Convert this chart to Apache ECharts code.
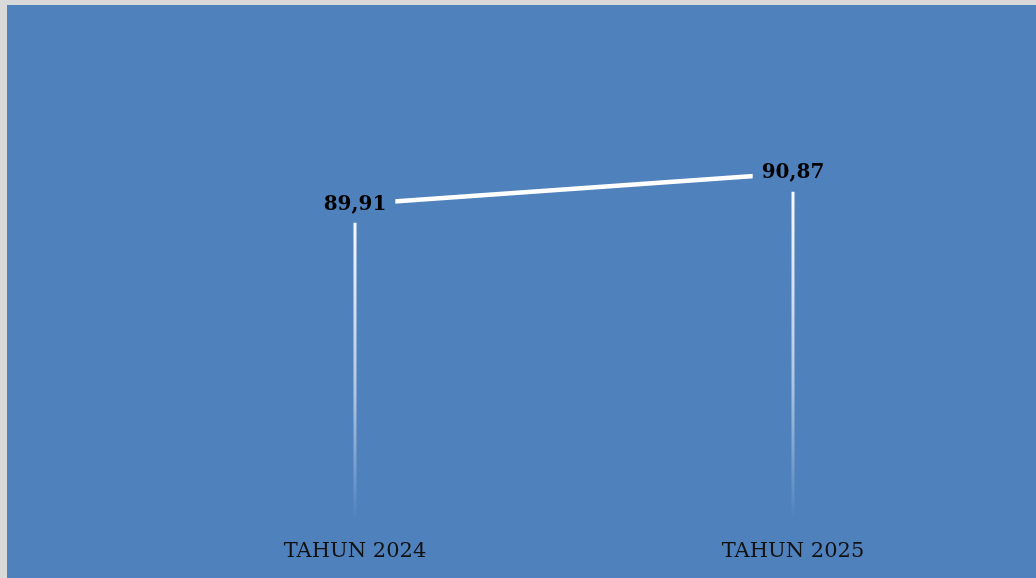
<!DOCTYPE html>
<html>
<head>
<meta charset="utf-8">
<script src="https://cdn.jsdelivr.net/npm/echarts@6/dist/echarts.min.js"></script>
<style>
html,body{margin:0;padding:0;background:#d9d9d9;}
#c{width:1036px;height:578px;}
</style>
</head>
<body>
<div id="c"></div>
<script>
var categories = ['TAHUN 2024', 'TAHUN 2025'];
var values = [89.91, 90.87];
var valueLabels = ['89,91', '90,87'];

var chart = echarts.init(document.getElementById('c'));
var blue = '#4F81BD';
chart.setOption({
  backgroundColor: '#d9d9d9',
  animation: false,
  graphic: [{
    type: 'rect', left: 7, top: 5, z: -10,
    shape: {width: 1036 - 7, height: 578 - 5},
    style: {fill: blue}
  }],
  grid: {left: 136, right: 24, top: 30, bottom: 58},
  xAxis: {
    type: 'category',
    data: categories,
    axisLine: {show: false},
    axisTick: {show: false},
    axisLabel: {
      margin: 21,
      fontFamily: 'DejaVu Serif',
      fontSize: 21,
      color: '#111',
      letterSpacing: 0.8
    }
  },
  yAxis: {
    type: 'value',
    min: 80.17,
    max: 95.29,
    show: false,
    splitLine: {show: false}
  },
  series: [{
    type: 'bar',
    data: values,
    barWidth: 3,
    z: 1,
    itemStyle: {
      color: new echarts.graphic.LinearGradient(0, 0, 0, 1, [
        {offset: 0, color: 'rgba(255,255,255,1)'},
        {offset: 0.6, color: 'rgba(255,255,255,0.55)'},
        {offset: 1, color: 'rgba(255,255,255,0)'}
      ])
    },
    silent: true
  }, {
    type: 'line',
    data: values,
    symbol: 'circle',
    symbolSize: 1,
    showSymbol: true,
    itemStyle: {color: '#ffffff'},
    z: 3,
    lineStyle: {color: '#ffffff', width: 4.5},
    label: {
      show: true,
      position: 'inside',
      formatter: function (p) { return valueLabels[p.dataIndex]; },
      fontFamily: 'DejaVu Serif',
      fontWeight: 'bold',
      fontSize: 20,
      color: '#000',
      backgroundColor: blue,
      padding: [8, 9, 9, 9]
    },
    labelLayout: {hideOverlap: false}
  }]
});
</script>
</body>
</html>
